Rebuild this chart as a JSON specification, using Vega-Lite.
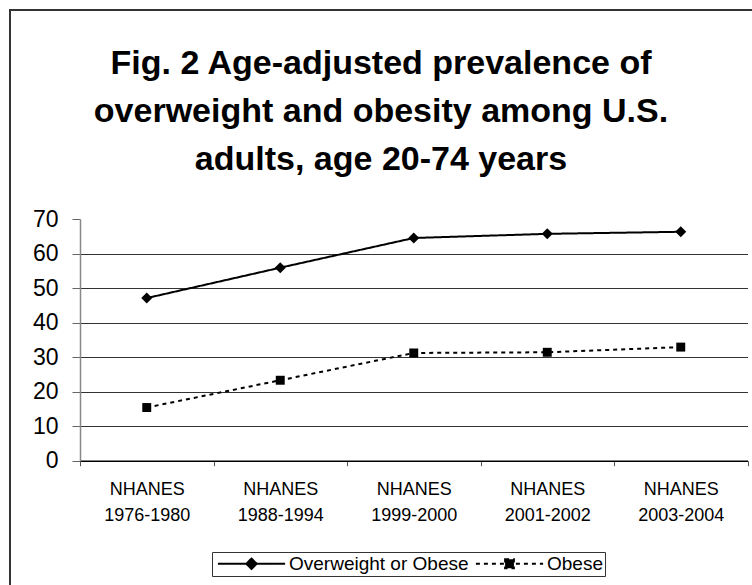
{
  "$schema": "https://vega.github.io/schema/vega-lite/v6.json",
  "autosize": {"type": "none"},
  "width": 800,
  "height": 620,
  "padding": {"left": 10, "top": 10, "right": -58, "bottom": -45},
  "background": "white",
  "config": {
    "view": {"stroke": "#333333", "strokeWidth": 2},
    "font": "Liberation Sans"
  },
  "title": {
    "text": ["Fig. 2 Age-adjusted prevalence of", "overweight and obesity among U.S.", "adults, age 20-74 years"],
    "font": "Liberation Sans",
    "fontSize": 34,
    "fontWeight": "bold",
    "color": "black",
    "anchor": "middle",
    "frame": "group",
    "lineHeight": 48,
    "offset": -167,
    "dx": -29
  },
  "data": {
    "values": [
      {"survey": "NHANES 1976-1980", "series": "Overweight or Obese", "value": 47.1},
      {"survey": "NHANES 1988-1994", "series": "Overweight or Obese", "value": 55.9},
      {"survey": "NHANES 1999-2000", "series": "Overweight or Obese", "value": 64.5},
      {"survey": "NHANES 2001-2002", "series": "Overweight or Obese", "value": 65.7},
      {"survey": "NHANES 2003-2004", "series": "Overweight or Obese", "value": 66.3},
      {"survey": "NHANES 1976-1980", "series": "Obese", "value": 15.4},
      {"survey": "NHANES 1988-1994", "series": "Obese", "value": 23.3},
      {"survey": "NHANES 1999-2000", "series": "Obese", "value": 31.2},
      {"survey": "NHANES 2001-2002", "series": "Obese", "value": 31.4},
      {"survey": "NHANES 2003-2004", "series": "Obese", "value": 32.9}
    ]
  },
  "encoding": {
    "x": {
      "field": "survey",
      "type": "nominal",
      "sort": null,
      "bandPosition": 0.5,
      "scale": {"type": "band", "paddingInner": 0, "paddingOuter": 0, "range": [70, 737.5]},
      "axis": {
        "title": null,
        "offset": -169.3,
        "labelExpr": "split(datum.label, ' ')",
        "labelAngle": 0,
        "labelFont": "Liberation Sans",
        "labelFontSize": 18,
        "labelLineHeight": 26,
        "labelColor": "black",
        "labelPadding": 15,
        "labelBaseline": "top",
        "tickBand": "extent",
        "tickSize": 5,
        "tickColor": "#555555",
        "domainColor": "black",
        "domainWidth": 1.5,
        "grid": false
      }
    },
    "y": {
      "field": "value",
      "type": "quantitative",
      "scale": {"domain": [0, 70], "nice": false, "range": [450.7, 209]},
      "axis": {
        "title": null,
        "offset": -70,
        "values": [0, 10, 20, 30, 40, 50, 60, 70],
        "labelFont": "Liberation Sans",
        "labelFontSize": 23,
        "labelColor": "black",
        "labelPadding": 14,
        "tickSize": 8,
        "tickColor": "#666666",
        "domainColor": "#888888",
        "domainWidth": 1.5,
        "grid": true,
        "gridColor": "#333333",
        "gridWidth": 1,
        "gridOpacity": {"condition": {"test": "datum.value === 70", "value": 0}, "value": 1}
      }
    }
  },
  "layer": [
    {
      "mark": {"type": "line", "color": "black", "strokeWidth": 2},
      "encoding": {
        "strokeDash": {
          "field": "series",
          "type": "nominal",
          "scale": {"domain": ["Overweight or Obese", "Obese"], "range": [[1, 0], [4, 4]]},
          "legend": {
            "title": null,
            "orient": "none",
            "legendX": 202,
            "legendY": 542,
            "direction": "horizontal",
            "labelFont": "Liberation Sans",
            "labelFontSize": 19,
            "labelColor": "black",
            "labelLimit": 0,
            "symbolSize": 256,
            "symbolOffset": 28,
            "labelOffset": 28,
            "columnPadding": 2,
            "strokeColor": "#333333",
            "padding": 2,
            "symbolStrokeColor": "black",
            "symbolStrokeWidth": 2,
            "encode": {
              "symbols": {
                "update": {
                  "shape": {"signal": "datum.value === 'Obese' ? 'M-4.2,0H4.2M-0.55,-0.55H0.55V0.55H-0.55Z' : 'M-4.2,0H4.2M0,-0.65L0.65,0L0,0.65L-0.65,0Z'"},
                  "fill": {"value": "black"},
                  "fillOpacity": {"value": 1},
                  "stroke": {"value": "black"},
                  "strokeWidth": {"value": 2},
                  "strokeOpacity": {"value": 1}
                }
              }
            }
          }
        }
      }
    },
    {
      "transform": [{"filter": "datum.series === 'Overweight or Obese'"}],
      "mark": {"type": "point", "filled": true, "color": "black", "opacity": 1, "shape": "diamond", "size": 120}
    },
    {
      "transform": [{"filter": "datum.series === 'Obese'"}],
      "mark": {"type": "point", "filled": true, "color": "black", "opacity": 1, "shape": "square", "size": 80}
    }
  ]
}
